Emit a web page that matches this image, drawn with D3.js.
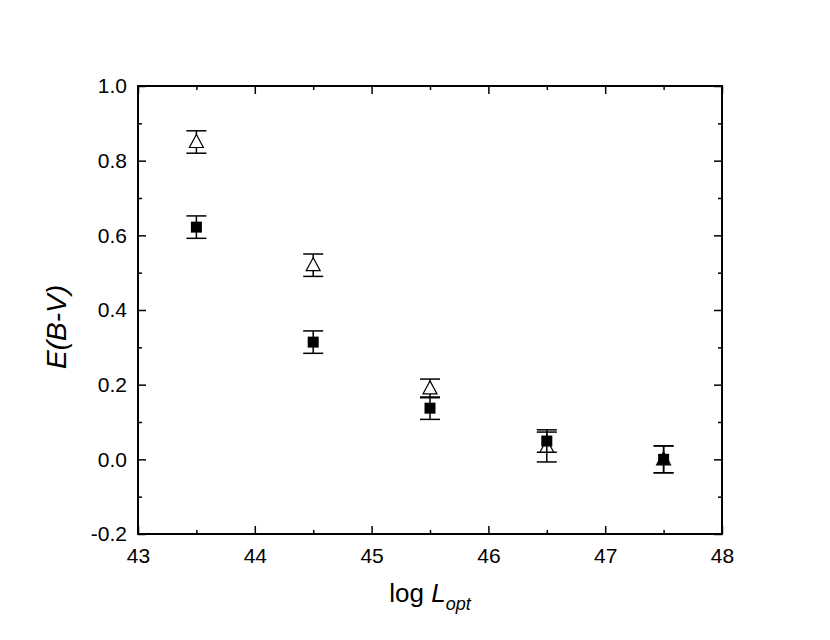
<!DOCTYPE html>
<html><head><meta charset="utf-8">
<script src="https://cdn.jsdelivr.net/npm/d3@7"></script>
<style>body{margin:0;background:#fff}text{font-family:"Liberation Sans",Arial,sans-serif}</style>
</head><body>
<script>
const xTicks = [43,44,45,46,47,48];
const yTicks = [-0.2,0.0,0.2,0.4,0.6,0.8,1.0];
const triX = [43.5,44.5,45.5,46.5,47.5];
const triY = [0.85,0.52,0.19,0.033,0.0];
const triErr = [0.03,0.03,0.025,0.04,0.036];
const sqX = [43.5,44.5,45.5,46.5,47.5];
const sqY = [0.622,0.314,0.137,0.049,0.0];
const sqErr = [0.03,0.03,0.03,0.03,0.036];

const W=830,H=640;
const L=138,R=722,T=86,B=534;
const svg=d3.select("body").append("svg").attr("width",W).attr("height",H);
const x=d3.scaleLinear().domain([43,48]).range([L,R]);
const y=d3.scaleLinear().domain([-0.2,1.0]).range([B,T]);

const minorX=d3.range(43.5,48,1), minorY=d3.range(-0.1,1.0,0.2);
const gB=svg.append("g").attr("transform",`translate(0,${B})`)
 .call(d3.axisBottom(x).tickValues(xTicks).tickFormat(d3.format("d")).tickSizeInner(-8).tickSizeOuter(0).tickPadding(14));
svg.append("g").attr("transform",`translate(0,${B})`)
 .call(d3.axisBottom(x).tickValues(minorX).tickFormat("").tickSizeInner(-4).tickSizeOuter(0));
svg.append("g").attr("transform",`translate(0,${T})`)
 .call(d3.axisTop(x).tickValues(xTicks).tickFormat("").tickSizeInner(-8).tickSizeOuter(0));
svg.append("g").attr("transform",`translate(0,${T})`)
 .call(d3.axisTop(x).tickValues(minorX).tickFormat("").tickSizeInner(-4).tickSizeOuter(0));
const gL=svg.append("g").attr("transform",`translate(${L},0)`)
 .call(d3.axisLeft(y).tickValues(yTicks).tickFormat(d3.format(".1f")).tickSizeInner(-8).tickSizeOuter(0).tickPadding(11));
svg.append("g").attr("transform",`translate(${L},0)`)
 .call(d3.axisLeft(y).tickValues(minorY).tickFormat("").tickSizeInner(-4).tickSizeOuter(0));
svg.append("g").attr("transform",`translate(${R},0)`)
 .call(d3.axisRight(y).tickValues(yTicks).tickFormat("").tickSizeInner(-8).tickSizeOuter(0));
svg.append("g").attr("transform",`translate(${R},0)`)
 .call(d3.axisRight(y).tickValues(minorY).tickFormat("").tickSizeInner(-4).tickSizeOuter(0));
svg.selectAll(".domain").remove();
svg.selectAll(".tick line").attr("stroke","#000").attr("stroke-width",1.5);
svg.selectAll(".tick text").attr("font-size",21).attr("fill","#000")
  .style("font-family",'"Liberation Sans",Arial,sans-serif');
gL.selectAll(".tick text").text(d=>d3.format(".1f")(d).replace("−","-"));
svg.append("rect").attr("x",L).attr("y",T).attr("width",R-L).attr("height",B-T)
 .attr("fill","none").attr("stroke","#000").attr("stroke-width",2);

function errbars(xs,ys,es){
  const g=svg.append("g").attr("stroke","#000").attr("stroke-width",1.5);
  xs.forEach((xv,i)=>{
    const cx=x(xv), y1=y(ys[i]+es[i]), y2=y(ys[i]-es[i]);
    g.append("line").attr("x1",cx).attr("x2",cx).attr("y1",y1).attr("y2",y2);
    g.append("line").attr("x1",cx-10).attr("x2",cx+10).attr("y1",y1).attr("y2",y1);
    g.append("line").attr("x1",cx-10).attr("x2",cx+10).attr("y1",y2).attr("y2",y2);
  });
}
errbars(triX,triY,triErr);
svg.append("g").selectAll("path").data(triX).join("path")
 .attr("transform",(d,i)=>`translate(${x(d)},${y(triY[i])})`)
 .attr("d","M0,-7.5L7,5.5L-7,5.5Z").attr("fill","#fff").attr("stroke","#000").attr("stroke-width",1.2);
errbars(sqX,sqY,sqErr);
svg.append("g").selectAll("rect").data(sqX).join("rect")
 .attr("x",d=>x(d)-5.5).attr("y",(d,i)=>y(sqY[i])-5.5).attr("width",11).attr("height",11).attr("fill","#000");

svg.append("text").attr("x",430).attr("y",602).attr("text-anchor","middle").attr("font-size",26)
 .html('log <tspan font-style="italic">L</tspan><tspan font-style="italic" font-size="18" dy="8">opt</tspan>');
svg.append("text").attr("transform","translate(66,327) rotate(-90)").attr("text-anchor","middle")
 .attr("font-size",28).attr("font-style","italic").text("E(B-V)");
</script>
</body></html>
